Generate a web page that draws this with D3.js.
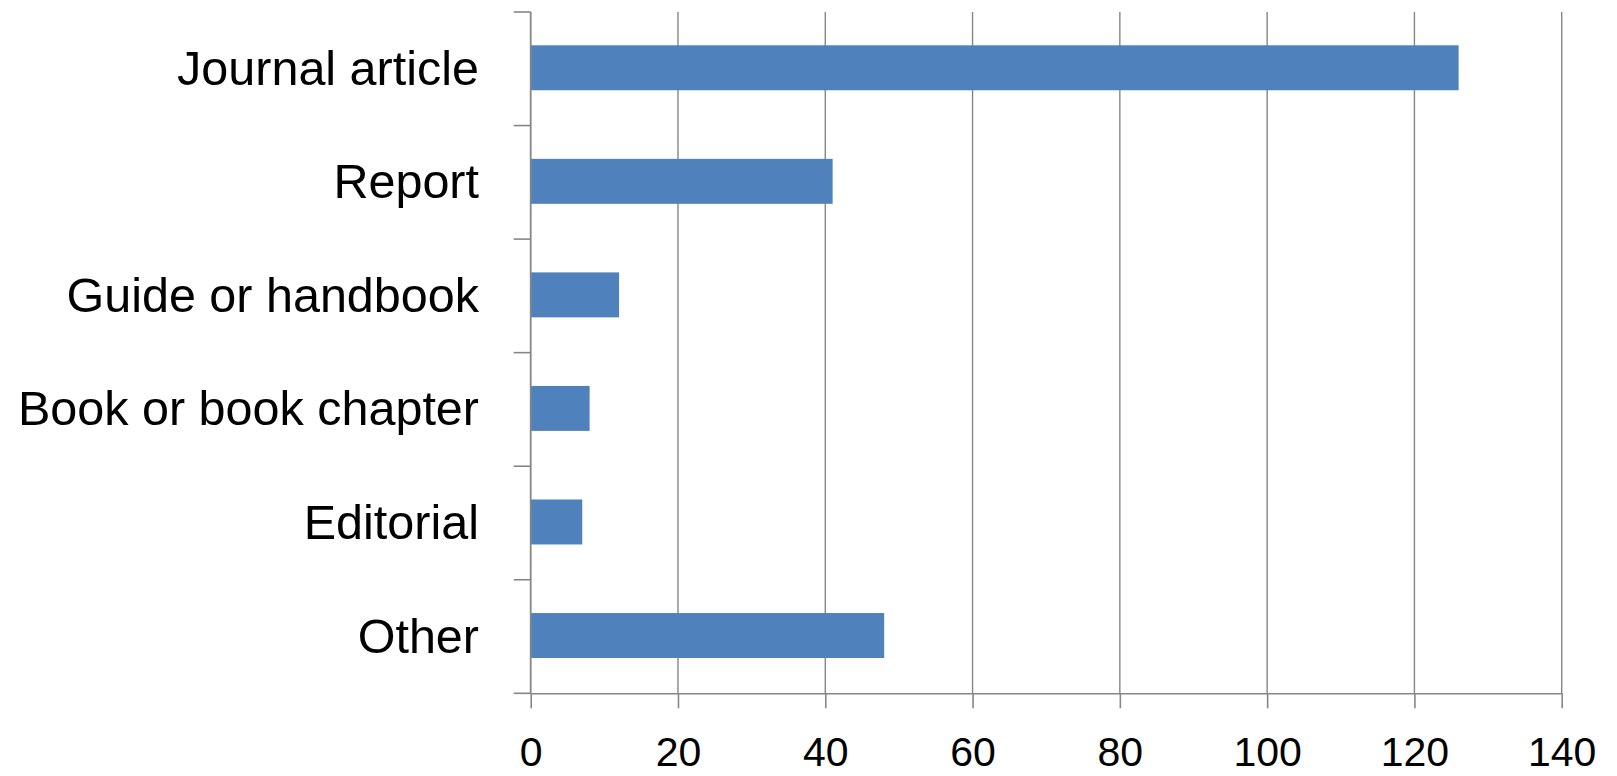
<!DOCTYPE html>
<html>
<head>
<meta charset="utf-8">
<script src="https://cdn.jsdelivr.net/npm/d3@7"></script>
<style>
  html, body { margin: 0; padding: 0; background: #fff; }
  svg { display: block; }
</style>
</head>
<body>
<svg id="chart" width="1617" height="776"></svg>
<script>
const categories = ["Journal article", "Report", "Guide or handbook", "Book or book chapter", "Editorial", "Other"];
const values = [126, 41, 12, 8, 7, 48];
const xTicks = [0, 20, 40, 60, 80, 100, 120, 140];

const svg = d3.select("#chart");
const margin = { left: 530.7, right: 1617 - 1561.7, top: 12, bottom: 776 - 693.3 };
const W = 1617, H = 776;

const x = d3.scaleLinear().domain([0, 140]).range([margin.left, W - margin.right]);
const y = d3.scaleBand().domain(categories).range([margin.top, H - margin.bottom]).padding(0);

const gridColor = "#868686";
const font = "'Liberation Sans', Arial, sans-serif";

// bottom axis ticks
const xAxis = d3.axisBottom(x).tickValues(xTicks).tickSize(15).tickSizeOuter(0).tickPadding(29);
const gx = svg.append("g").attr("transform", `translate(0,${y.range()[1]})`).call(xAxis);
gx.select(".domain").attr("stroke", gridColor).attr("stroke-width", 1.6);
gx.selectAll(".tick line").attr("stroke", gridColor).attr("stroke-width", 1.6);
gx.selectAll(".tick text").attr("font-family", font).attr("font-size", 41).attr("fill", "#000");

// vertical gridlines
svg.append("g").selectAll("line").data(xTicks.filter(d => d > 0)).join("line")
  .attr("x1", d => x(d)).attr("x2", d => x(d))
  .attr("y1", y.range()[0]).attr("y2", y.range()[1])
  .attr("stroke", gridColor).attr("stroke-width", 1.4);

// bars
const barFrac = 0.396;
svg.append("g").selectAll("rect").data(categories).join("rect")
  .attr("x", x(0))
  .attr("y", (c) => y(c) + y.bandwidth() * (1 - barFrac) / 2 - 1)
  .attr("width", (c, i) => x(values[i]) - x(0))
  .attr("height", y.bandwidth() * barFrac)
  .attr("fill", "#4F81BD");

// left axis line
svg.append("line")
  .attr("x1", x(0)).attr("x2", x(0))
  .attr("y1", y.range()[0]).attr("y2", y.range()[1])
  .attr("stroke", gridColor).attr("stroke-width", 1.8);

// category boundary ticks
const bounds = categories.map(c => y(c)).concat([y.range()[1]]);
svg.append("g").selectAll("line").data(bounds).join("line")
  .attr("x1", x(0) - 17).attr("x2", x(0))
  .attr("y1", d => d).attr("y2", d => d)
  .attr("stroke", gridColor).attr("stroke-width", 1.6);

// category labels
svg.append("g").selectAll("text").data(categories).join("text")
  .attr("x", 479)
  .attr("y", c => y(c) + y.bandwidth() / 2)
  .attr("dy", "0.33em")
  .attr("text-anchor", "end")
  .attr("font-family", font)
  .attr("font-size", 48.5)
  .attr("fill", "#000")
  .text(c => c);
</script>
</body>
</html>
